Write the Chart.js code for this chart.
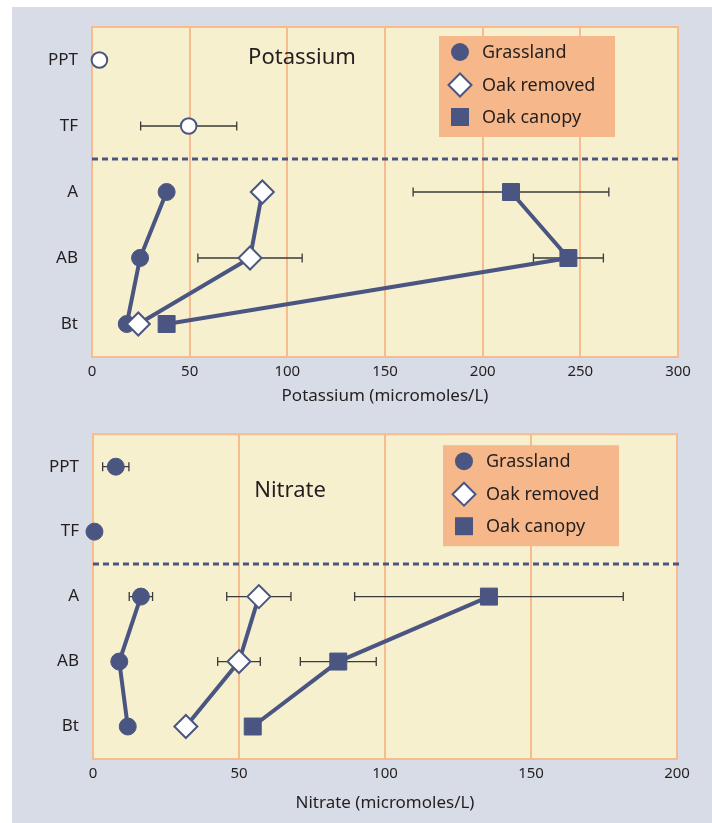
<!DOCTYPE html>
<html><head><meta charset="utf-8">
<script src="https://cdn.jsdelivr.net/npm/chart.js@4.4.1/dist/chart.umd.min.js"></script>
<style>
html,body{margin:0;padding:0;background:#fff;}
#panel{position:absolute;left:12px;top:7px;width:700px;height:816px;background:#D8DCE6;}
#c1{position:absolute;left:0;top:0;}
#c2{position:absolute;left:0;top:410px;}
</style></head><body>
<div id="panel"></div>
<canvas id="c1" width="712" height="410"></canvas>
<canvas id="c2" width="712" height="413"></canvas>
<script>
// ---- data ----
const categories = ['PPT', 'TF', 'A', 'AB', 'Bt'];
const seriesNames = ['Grassland', 'Oak removed', 'Oak canopy'];

// Potassium (micromoles/L)
const kTicks = [0, 50, 100, 150, 200, 250, 300];
const kInputs = [3.8, 49.5, null, null, null];
const kInputsErr = [null, 24.6, null, null, null];
const kGrassland = [null, null, 38.2, 24.6, 17.8];
const kGrasslandErr = [null, null, null, null, null];
const kOakRemoved = [null, null, 87.2, 80.9, 23.7];
const kOakRemovedErr = [null, null, null, 26.7, null];
const kOakCanopy = [null, null, 214.5, 243.9, 38.2];
const kOakCanopyErr = [null, null, 50.1, 17.9, null];

// Nitrate (micromoles/L)
const nTicks = [0, 50, 100, 150, 200];
const nInputs = [7.8, 0.5, null, null, null];
const nInputsErr = [4.5, null, null, null, null];
const nGrassland = [null, null, 16.4, 9.0, 11.9];
const nGrasslandErr = [null, null, 4.0, null, null];
const nOakRemoved = [null, null, 56.8, 50.0, 31.8];
const nOakRemovedErr = [null, null, 11.0, 7.3, null];
const nOakCanopy = [null, null, 135.6, 84.0, 54.7];
const nOakCanopyErr = [null, null, 46.0, 13.0, null];

// ---- styles ----
const NAVY = '#4A5681';
const ORANGE = '#F6BC90';
const CREAM = '#F7F0CF';
const PEACH = '#F6B88A';
const TEXT = '#231F20';
const FONT = "'Noto Sans', 'Open Sans', sans-serif";

const decorPlugin = {
  id: 'decor',
  beforeDraw(chart, args, opts) {
    const {ctx, chartArea: a} = chart;
    ctx.save();
    ctx.fillStyle = CREAM;
    ctx.fillRect(a.left, a.top, a.right - a.left, a.bottom - a.top);
    ctx.restore();
  },
  beforeDatasetsDraw(chart, args, opts) {
    const {ctx, chartArea: a} = chart;
    const x = chart.scales.x, y = chart.scales.y;
    ctx.save();
    // border
    ctx.strokeStyle = ORANGE; ctx.lineWidth = 2;
    ctx.strokeRect(a.left, a.top, a.right - a.left, a.bottom - a.top);
    // dashed separator between TF and A
    const ys = (y.getPixelForValue(1) + y.getPixelForValue(2)) / 2;
    ctx.strokeStyle = NAVY; ctx.lineWidth = 3; ctx.setLineDash([6, 4]);
    ctx.beginPath(); ctx.moveTo(a.left, ys); ctx.lineTo(a.right + 2, ys); ctx.stroke();
    ctx.setLineDash([]);
    // title text
    ctx.fillStyle = TEXT;
    ctx.font = '22px ' + FONT;
    ctx.textAlign = 'center'; ctx.textBaseline = 'middle';
    ctx.fillText(opts.title, a.left + opts.titleDx, a.top + opts.titleDy);
    // error bars
    ctx.strokeStyle = '#3a3a3a'; ctx.lineWidth = 1.3;
    chart.data.datasets.forEach((ds, i) => {
      if (!ds.errors) return;
      const meta = chart.getDatasetMeta(i);
      ds.errors.forEach((e, j) => {
        if (e == null || ds.data[j] == null) return;
        const py = meta.data[j].y;
        const x1 = x.getPixelForValue(ds.data[j] - e);
        const x2 = x.getPixelForValue(ds.data[j] + e);
        ctx.beginPath();
        ctx.moveTo(x1, py); ctx.lineTo(x2, py);
        ctx.moveTo(x1, py - 4.5); ctx.lineTo(x1, py + 4.5);
        ctx.moveTo(x2, py - 4.5); ctx.lineTo(x2, py + 4.5);
        ctx.stroke();
      });
    });
    ctx.restore();
  },
  afterDraw(chart, args, opts) {
    const {ctx, chartArea: a} = chart;
    const bx = a.left + opts.legendDx, by = a.top + opts.legendDy;
    ctx.save();
    ctx.fillStyle = PEACH;
    ctx.fillRect(bx, by, 176, 101);
    const rows = [16, 49, 81];
    const mx = bx + 21;
    // circle
    ctx.fillStyle = NAVY;
    ctx.beginPath(); ctx.arc(mx, by + rows[0], 9, 0, Math.PI * 2); ctx.fill();
    // diamond
    ctx.fillStyle = '#fff'; ctx.strokeStyle = NAVY; ctx.lineWidth = 2;
    const d = 11.5, cy = by + rows[1];
    ctx.beginPath(); ctx.moveTo(mx, cy - d); ctx.lineTo(mx + d, cy); ctx.lineTo(mx, cy + d); ctx.lineTo(mx - d, cy); ctx.closePath();
    ctx.fill(); ctx.stroke();
    // square
    ctx.fillStyle = NAVY;
    ctx.fillRect(mx - 9, by + rows[2] - 9, 18, 18);
    ctx.fillStyle = TEXT;
    ctx.font = '18px ' + FONT;
    ctx.textAlign = 'left'; ctx.textBaseline = 'middle';
    seriesNames.forEach((n, i) => ctx.fillText(n, bx + 43, by + rows[i] + 1));
    ctx.restore();
  }
};

function makeChart(canvasId, cfg) {
  const inputStyle = cfg.inputsFilled
    ? {pointBackgroundColor: NAVY, pointBorderColor: NAVY, pointBorderWidth: 1, pointRadius: 8.5}
    : {pointBackgroundColor: '#fff', pointBorderColor: NAVY, pointBorderWidth: 2, pointRadius: 7.8};
  const common = {borderColor: NAVY, borderWidth: 4, tension: 0, clip: false, pointHoverRadius: 0};
  return new Chart(document.getElementById(canvasId), {
    type: 'line',
    data: {
      labels: categories,
      datasets: [
        Object.assign({label: seriesNames[1], data: cfg.removed, errors: cfg.removedErr,
          pointStyle: 'rectRot', pointRadius: 11.5, pointBackgroundColor: '#fff', pointBorderColor: NAVY, pointBorderWidth: 2}, common),
        Object.assign({label: seriesNames[0], data: cfg.grass, errors: cfg.grassErr,
          pointStyle: 'circle', pointRadius: 8.5, pointBackgroundColor: NAVY, pointBorderColor: NAVY, pointBorderWidth: 1}, common),
        Object.assign({label: seriesNames[2], data: cfg.canopy, errors: cfg.canopyErr,
          pointStyle: 'rect', pointRadius: 12, pointBackgroundColor: NAVY, pointBorderColor: NAVY, pointBorderWidth: 1}, common),
        Object.assign({label: 'Inputs', data: cfg.inputs, errors: cfg.inputsErr, showLine: false,
          pointStyle: 'circle'}, common, inputStyle)
      ]
    },
    options: {
      indexAxis: 'y',
      responsive: false,
      animation: false,
      devicePixelRatio: 1,
      layout: {padding: cfg.padding},
      scales: {
        x: {
          type: 'linear', position: 'bottom',
          min: cfg.ticks[0], max: cfg.ticks[cfg.ticks.length - 1],
          afterBuildTicks: s => { s.ticks = cfg.ticks.map(v => ({value: v})); },
          afterFit: s => { s.height = cfg.xHeight; },
          grid: {color: ORANGE, lineWidth: 2, drawTicks: false},
          border: {display: false},
          ticks: {padding: 6, color: TEXT, font: {family: FONT, size: 15}},
          title: {display: true, text: cfg.axisTitle, color: TEXT,
            font: {family: FONT, size: 17}, padding: {top: 0, bottom: cfg.titlePad}}
        },
        y: {
          type: 'category', position: 'left', offset: true,
          afterFit: s => { s.width = cfg.yWidth; },
          grid: {display: false, drawTicks: false},
          border: {display: false},
          ticks: {padding: 14, color: TEXT, font: {family: FONT, size: 17}}
        }
      },
      plugins: {
        legend: {display: false},
        tooltip: {enabled: false},
        decor: cfg.decor
      }
    },
    plugins: [decorPlugin]
  });
}

makeChart('c1', {
  ticks: kTicks, inputs: kInputs, inputsErr: kInputsErr, inputsFilled: false,
  grass: kGrassland, grassErr: kGrasslandErr,
  removed: kOakRemoved, removedErr: kOakRemovedErr,
  canopy: kOakCanopy, canopyErr: kOakCanopyErr,
  axisTitle: 'Potassium (micromoles/L)',
  padding: {top: 27, right: 34, left: 0, bottom: 0},
  xHeight: 53, yWidth: 92, titlePad: 4,
  decor: {title: 'Potassium', titleDx: 210, titleDy: 31, legendDx: 347, legendDy: 9}
});

makeChart('c2', {
  ticks: nTicks, inputs: nInputs, inputsErr: nInputsErr, inputsFilled: true,
  grass: nGrassland, grassErr: nGrasslandErr,
  removed: nOakRemoved, removedErr: nOakRemovedErr,
  canopy: nOakCanopy, canopyErr: nOakCanopyErr,
  axisTitle: 'Nitrate (micromoles/L)',
  padding: {top: 19, right: 35, left: 0, bottom: 0},
  xHeight: 64, yWidth: 93, titlePad: 10,
  decor: {title: 'Nitrate', titleDx: 197, titleDy: 57, legendDx: 350, legendDy: 11}
});
</script>
</body></html>
